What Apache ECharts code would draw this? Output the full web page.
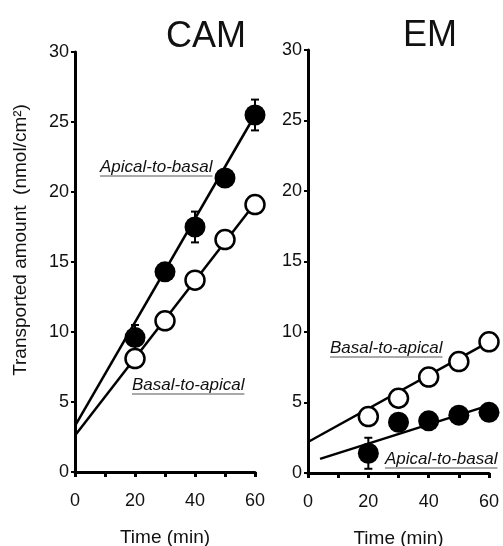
<!DOCTYPE html>
<html lang="en">
<head>
    <meta charset="UTF-8">
    <title>CAM / EM transport</title>
    <style>
        html, body { margin: 0; padding: 0; background: #fff; }
        #main { width: 503px; height: 546px; }
    </style>
</head>
<body>
    <div id="main"></div>
    <script src="https://cdn.jsdelivr.net/npm/echarts@6/dist/echarts.min.js"></script>
    <script>
        // time points (min)
        var times = [20, 30, 40, 50, 60];

        // CAM
        var camApicalToBasal = [9.6, 14.3, 17.5, 21.0, 25.5];
        var camBasalToApical = [8.1, 10.8, 13.7, 16.6, 19.1];
        var camApicalErr = [[20, 8.7, 10.5], [40, 16.4, 18.6], [60, 24.4, 26.6]];
        var camApicalFit = [[0, 3.3], [60, 25.5]];
        var camBasalFit = [[0, 2.6], [60, 19.2]];

        // EM
        var emBasalToApical = [4.0, 5.3, 6.8, 7.9, 9.3];
        var emApicalToBasal = [1.4, 3.6, 3.7, 4.1, 4.3];
        var emApicalErr = [[20, 0.3, 2.5]];
        var emBasalFit = [[0, 2.2], [60, 9.3]];
        var emApicalFit = [[4, 1.0], [60, 4.8]];

        var yTicks = [0, 5, 10, 15, 20, 25, 30];
        var xTicks = [0, 20, 40, 60];

        var FONT = 'Liberation Sans, Arial, Helvetica, sans-serif';

        function pairs(xs, ys) {
            return xs.map(function (x, i) { return [x, ys[i]]; });
        }

        function xAxisOpt(idx) {
            return {
                gridIndex: idx,
                type: 'value',
                min: 0, max: 60, interval: 10,
                name: 'Time (min)',
                nameLocation: 'middle',
                nameGap: 56,
                nameTextStyle: { color: '#111', fontSize: 19, fontFamily: FONT },
                axisLine: { lineStyle: { color: '#000', width: 3 } },
                axisTick: { length: 5, lineStyle: { color: '#000', width: 3 } },
                axisLabel: {
                    color: '#111', fontSize: 18, fontFamily: FONT, margin: 20,
                    formatter: function (v) { return xTicks.indexOf(v) >= 0 ? v : ''; }
                },
                splitLine: { show: false }
            };
        }

        function yAxisOpt(idx) {
            return {
                gridIndex: idx,
                type: 'value',
                min: 0, max: 30, interval: 5,
                axisLine: { show: true, lineStyle: { color: '#000', width: 3 } },
                axisTick: { show: true, length: 4, lineStyle: { color: '#000', width: 2 } },
                axisLabel: {
                    color: '#111', fontSize: 18, fontFamily: FONT, margin: 6,
                    formatter: function (v) { return yTicks.indexOf(v) >= 0 ? v : ''; }
                },
                splitLine: { show: false }
            };
        }

        function fitLine(idx, data) {
            return {
                type: 'line', xAxisIndex: idx, yAxisIndex: idx,
                data: data, symbol: 'none', silent: true,
                lineStyle: { color: '#000', width: 2.5 }, z: 2
            };
        }

        function points(idx, data, filled) {
            return {
                type: 'scatter', xAxisIndex: idx, yAxisIndex: idx,
                data: data, symbol: 'circle', symbolSize: filled ? 21 : 19,
                itemStyle: filled
                    ? { color: '#000', opacity: 1 }
                    : { color: '#fff', borderColor: '#000', borderWidth: 2.5, opacity: 1 },
                z: 4
            };
        }

        function errorBars(idx, data) {
            return {
                type: 'custom', xAxisIndex: idx, yAxisIndex: idx,
                data: data, z: 3,
                renderItem: function (params, api) {
                    var x = api.value(0);
                    var lo = api.coord([x, api.value(1)]);
                    var hi = api.coord([x, api.value(2)]);
                    var s = { stroke: '#000', lineWidth: 2 };
                    return {
                        type: 'group',
                        children: [
                            { type: 'line', shape: { x1: lo[0], y1: lo[1], x2: hi[0], y2: hi[1] }, style: s },
                            { type: 'line', shape: { x1: hi[0] - 4, y1: hi[1], x2: hi[0] + 4, y2: hi[1] }, style: s },
                            { type: 'line', shape: { x1: lo[0] - 4, y1: lo[1], x2: lo[0] + 4, y2: lo[1] }, style: s }
                        ]
                    };
                }
            };
        }

        // underlined italic curve labels
        var labelFont = 'italic 17px ' + FONT;
        var measure = document.createElement('canvas').getContext('2d');
        measure.font = labelFont;
        function curveLabel(x, y, text) {
            var w = measure.measureText(text).width;
            return [
                { type: 'text', x: x, y: y, style: { text: text, font: labelFont, fill: '#111', align: 'left', verticalAlign: 'middle' } },
                { type: 'line', shape: { x1: x, y1: y + 9, x2: x + w, y2: y + 9 }, style: { stroke: '#555', lineWidth: 1 } }
            ];
        }

        var chart = echarts.init(document.getElementById('main'));

        var option = {
            backgroundColor: '#fff',
            animation: false,
            title: [
                { text: 'CAM', left: 201, top: 14, textAlign: 'center', textStyle: { fontSize: 36, fontWeight: 'normal', color: '#111', fontFamily: FONT } },
                { text: 'EM', left: 425, top: 13, textAlign: 'center', textStyle: { fontSize: 36, fontWeight: 'normal', color: '#111', fontFamily: FONT } }
            ],
            grid: [
                { left: 75, top: 52, width: 180, height: 420, outerBoundsMode: 'none' },
                { left: 308, top: 50, width: 181, height: 423, outerBoundsMode: 'none' }
            ],
            xAxis: [xAxisOpt(0), xAxisOpt(1)],
            yAxis: [yAxisOpt(0), yAxisOpt(1)],
            graphic: [
                {
                    type: 'text', x: 21, y: 240, rotation: Math.PI / 2,
                    style: { text: 'Transported amount  (nmol/cm²)', font: '19px ' + FONT, fill: '#111', align: 'center', verticalAlign: 'middle' }
                }
            ].concat(
                curveLabel(100, 167, 'Apical-to-basal'),
                curveLabel(132, 385, 'Basal-to-apical'),
                curveLabel(330, 348, 'Basal-to-apical'),
                curveLabel(385, 459, 'Apical-to-basal')
            ),
            series: [
                fitLine(0, camApicalFit),
                fitLine(0, camBasalFit),
                errorBars(0, camApicalErr),
                points(0, pairs(times, camApicalToBasal), true),
                points(0, pairs(times, camBasalToApical), false),

                fitLine(1, emBasalFit),
                fitLine(1, emApicalFit),
                errorBars(1, emApicalErr),
                points(1, pairs(times, emApicalToBasal), true),
                points(1, pairs(times, emBasalToApical), false)
            ]
        };

        chart.setOption(option);
    </script>
</body>
</html>
